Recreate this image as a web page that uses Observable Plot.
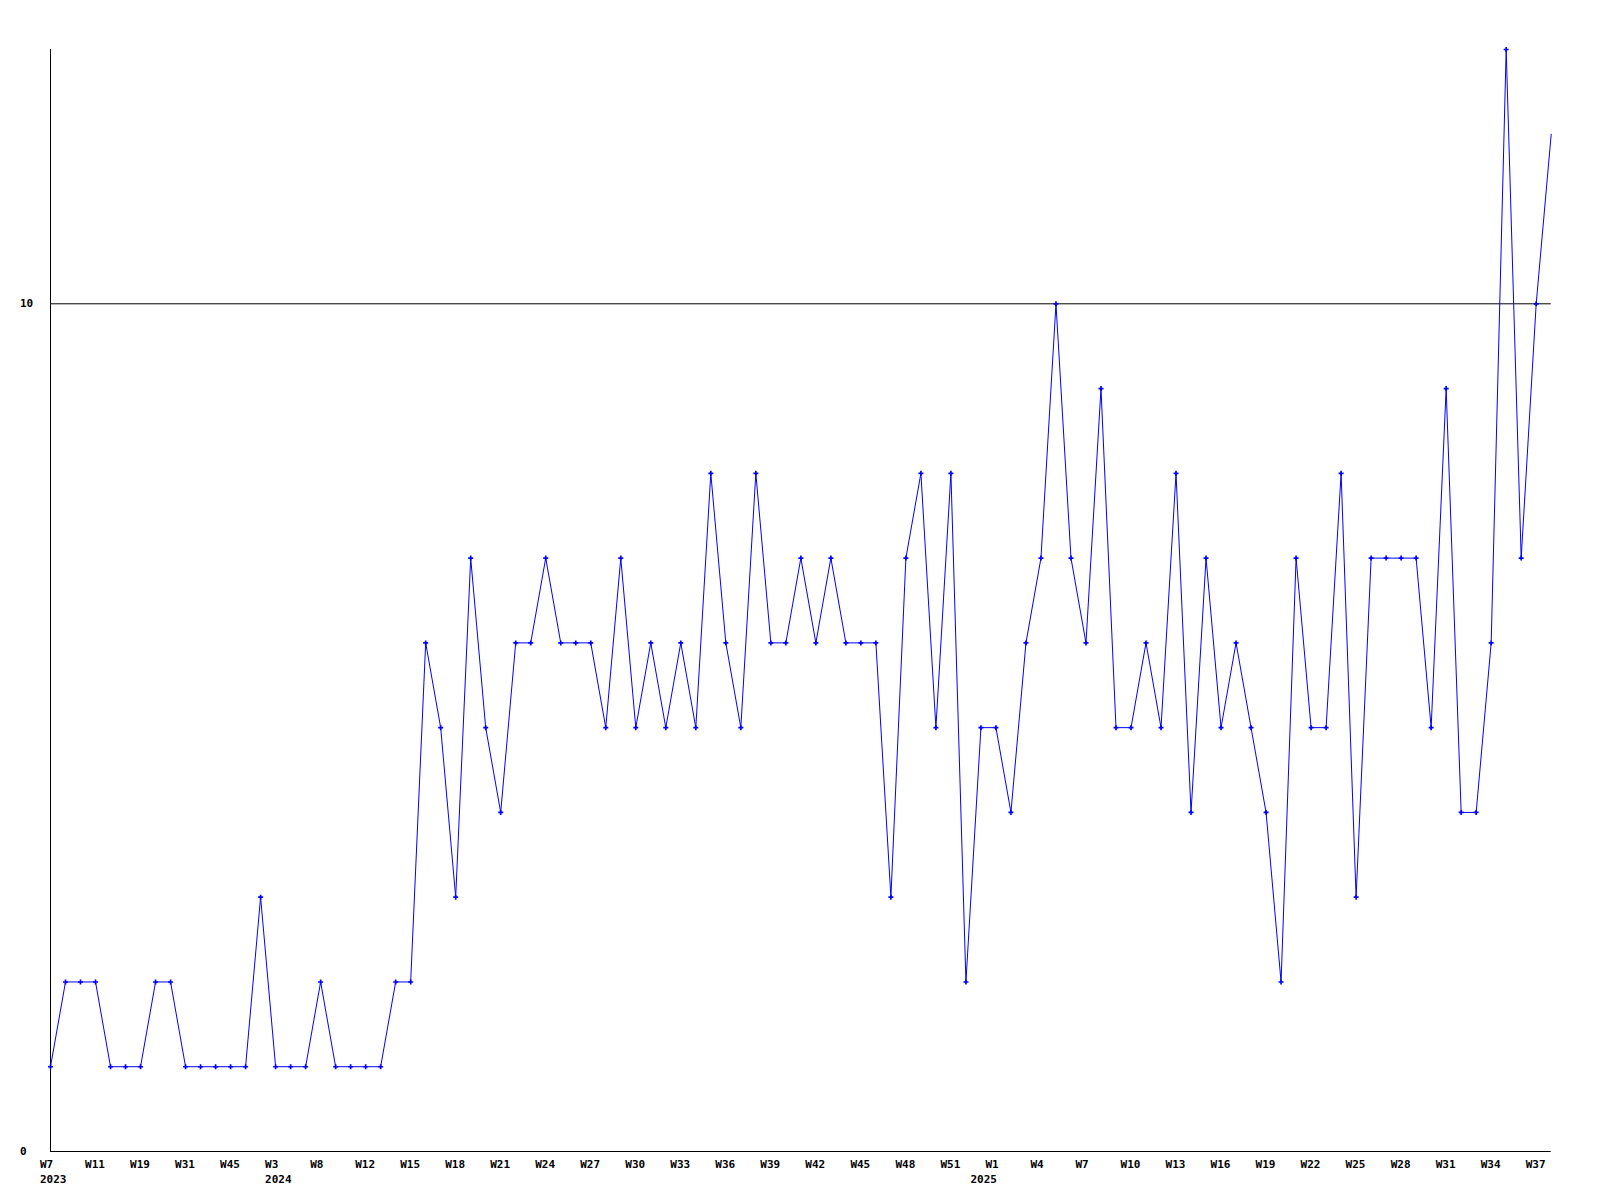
<!DOCTYPE html>
<html>
<head>
<meta charset="utf-8">
<script src="https://cdn.jsdelivr.net/npm/d3@7"></script>
<script src="https://cdn.jsdelivr.net/npm/@observablehq/plot@0.6"></script>
<style>
  html, body { margin: 0; padding: 0; background: #ffffff; }
  #chart svg { display: block; }
</style>
</head>
<body>
<div id="chart"></div>
<script>
// Weekly series values (one per week, in order)
const values = [
  1,2,2,2,1,1,1,2,2,1,
  1,1,1,1,3,1,1,1,2,1,
  1,1,1,2,2,6,5,3,7,5,
  4,6,6,7,6,6,6,5,7,5,
  6,5,6,5,8,6,5,8,6,6,
  7,6,7,6,6,6,3,7,8,5,
  8,2,5,5,4,6,7,10,7,6,
  9,5,5,6,5,8,4,7,5,6,
  5,4,2,7,5,5,8,3,7,7,
  7,7,5,9,4,4,6,13,7,10,12
];

// Week tick labels, one on every third week
const tickLabels = [
  "W7","W11","W19","W31","W45","W3","W8","W12","W15","W18","W21","W24",
  "W27","W30","W33","W36","W39","W42","W45","W48","W51","W1","W4","W7",
  "W10","W13","W16","W19","W22","W25","W28","W31","W34","W37"
];
const tickEvery = 3;

// Year labels and the week index where each year begins
const yearLabels = ["2023", "2024", "2025"];
const yearStartIndex = [0, 15, 62];

// Y tick values
const yTicks = [0, 10];

const data = values.map((v, i) => ({i, v}));
const ticks = tickLabels.map((label, k) => ({i: k * tickEvery, label}));
const years = yearLabels.map((label, k) => ({i: yearStartIndex[k], label}));

const font = {fontFamily: "DejaVu Sans Mono", fontSize: 11, fontWeight: "bold", fill: "black"};

const chart = Plot.plot({
  width: 1600,
  height: 1200,
  marginLeft: 50,
  marginRight: 49.3,
  marginTop: 49,
  marginBottom: 49,
  style: {background: "white"},
  x: {domain: [0, values.length - 1], axis: null},
  y: {domain: [0, 13], axis: null},
  marks: [
    Plot.ruleY([10], {stroke: "black", strokeWidth: 1}),
    Plot.ruleY([0], {stroke: "black", strokeWidth: 1}),
    Plot.ruleX([0], {stroke: "black", strokeWidth: 1}),
    Plot.line(data, {x: "i", y: "v", stroke: "#0000ff", strokeWidth: 1}),
    Plot.dot(data.slice(0, -1), {x: "i", y: "v", symbol: "cross", r: 2.1, fill: "#0000ff", stroke: "none"}),
    Plot.text(ticks, {x: "i", text: "label", frameAnchor: "bottom", textAnchor: "start", lineAnchor: "middle", dx: -10.5, dy: 12.5, ...font}),
    Plot.text(years, {x: "i", text: "label", frameAnchor: "bottom", textAnchor: "start", lineAnchor: "middle", dx: -10.5, dy: 28, ...font}),
    Plot.text(yTicks, {y: d => d, text: d => String(d), frameAnchor: "left", textAnchor: "start", lineAnchor: "middle", dx: -30.5, ...font})
  ]
});

document.getElementById("chart").appendChild(chart);
</script>
</body>
</html>
